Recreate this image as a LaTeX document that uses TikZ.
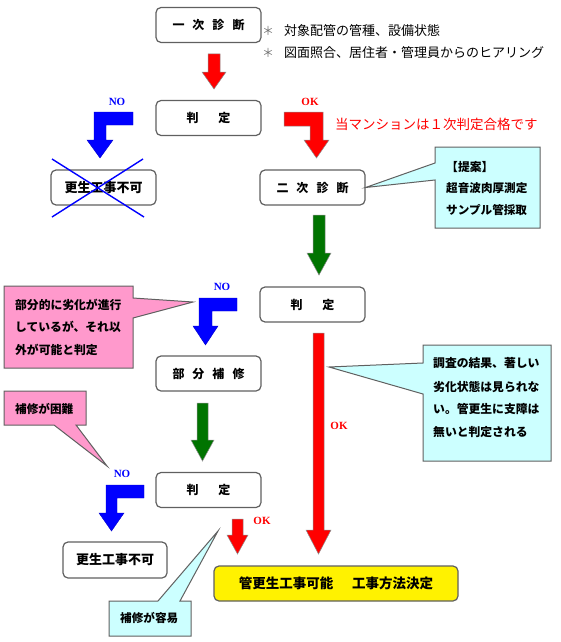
\documentclass[tikz,border=0pt]{standalone}
\usepackage{fontspec}
\newfontfamily\jp{Noto Sans CJK JP}
\newfontfamily\lat{Liberation Serif}
\definecolor{cyanbg}{HTML}{CCFFFF}
\definecolor{pinkbg}{HTML}{FF99CC}
\definecolor{darkgreen}{HTML}{007400}
\definecolor{boxline}{HTML}{606060}
\begin{document}
\begin{tikzpicture}[x=1pt,y=-1pt,
  flowbox/.style={draw=boxline, line width=1.2pt, rounded corners=5pt, fill=white, inner sep=0pt,
    minimum width=105pt, minimum height=35pt, font=\jp\bfseries\fontsize{12}{14}\selectfont},
  fatred/.style={fill=red, draw=black!45, line width=0.5pt},
  fatgreen/.style={fill=darkgreen, draw=black!45, line width=0.5pt},
  fatblue/.style={fill=blue, draw=blue!80!black, line width=0.4pt},
  callcyan/.style={fill=cyanbg, draw=boxline, line width=1pt},
  callpink/.style={fill=pinkbg, draw=boxline, line width=1pt},
  calltext/.style={anchor=west, inner sep=0pt, font=\jp\bfseries\fontsize{11.8}{14}\selectfont},
  nolabel/.style={inner sep=0pt, text=blue, font=\lat\bfseries\fontsize{11}{12}\selectfont},
  oklabel/.style={inner sep=0pt, text=red, font=\lat\bfseries\fontsize{11}{12}\selectfont},
  notetext/.style={anchor=west, inner sep=0pt, font=\jp\fontsize{13}{15}\selectfont}]
\useasboundingbox (0,0) rectangle (560,642);

% ---------- boxes ----------
\node[flowbox] (n1) at (208.5,25) {一\hspace{8pt}次\hspace{8pt}診\hspace{8pt}断};
\node[flowbox] (j1) at (208.5,118) {判\hspace{20pt}定};
\node[flowbox, font=\jp\bfseries\fontsize{13}{15}\selectfont] (ng1) at (103.5,187.5) {更生工事不可};
\node[flowbox] (n2) at (312.5,187.5) {二\hspace{8pt}次\hspace{8pt}診\hspace{8pt}断};
\node[flowbox] (j2) at (312.5,304.5) {判\hspace{20pt}定};
\node[flowbox] (ps) at (208.5,373.5) {部\hspace{8pt}分\hspace{8pt}補\hspace{8pt}修};
\node[flowbox] (j3) at (208.5,490) {判\hspace{20pt}定};
\node[flowbox, minimum width=104pt, minimum height=36pt, font=\jp\bfseries\fontsize{13}{15}\selectfont] (ng2) at (115,560) {更生工事不可};
\node[flowbox, fill=yellow, minimum width=244pt, font=\jp\bfseries\fontsize{13.5}{15}\selectfont] (fin) at (336,583.5) {管更生工事可能\hspace{19pt}工事方法決定};

% ---------- cross over first 更生工事不可 ----------
\coordinate (x1) at (52,159); \coordinate (x2) at (144,217);
\coordinate (x3) at (143,159); \coordinate (x4) at (52,217);
\draw[blue, line width=1.4pt] (x1) -- (x2);
\draw[blue, line width=1.4pt] (x3) -- (x4);

% ---------- notes ----------
\node[inner sep=0pt, text=black!55, font=\jp\fontsize{12}{14}\selectfont] (ast1) at (268,31) {＊};
\node[inner sep=0pt, text=black!55, font=\jp\fontsize{12}{14}\selectfont] (ast2) at (268,53) {＊};
\node[notetext] (note1) at (284,31) {対象配管の管種、設備状態};
\node[notetext] (note2) at (284,53) {図面照合、居住者・管理員からのヒアリング};
\node[notetext, text=red, font=\jp\fontsize{13.5}{15}\selectfont] (pass) at (335,124) {当マンションは１次判定合格です};

% ---------- straight block arrows ----------
% red 1
\draw[fatred] (208,54) -- (220,54) -- (220,72) -- (226,72) -- (214,89) -- (202,72) -- (208,72) -- cycle;
% green 1
\draw[fatgreen] (313,215) -- (325,215) -- (325,253) -- (331,253) -- (319,275) -- (307,253) -- (313,253) -- cycle;
% red long
\draw[fatred] (313,333) -- (324,333) -- (324,530) -- (331,530) -- (318.5,554) -- (306,530) -- (313,530) -- cycle;
% green 2
\draw[fatgreen] (197,403) -- (208,403) -- (208,440) -- (214,440) -- (202.5,461) -- (191,440) -- (197,440) -- cycle;
% red small
\draw[fatred] (232,519) -- (243,519) -- (243,535) -- (248,535) -- (237.5,554) -- (227,535) -- (232,535) -- cycle;

% ---------- L-shaped block arrows ----------
% blue NO 1
\draw[fatblue] (133,112) -- (133,125) -- (106,125) -- (106,140) -- (113,140) -- (100,158) -- (87,140) -- (94,140) -- (94,112) -- cycle;
% red OK 1
\draw[fatred] (284,112) -- (323,112) -- (323,140) -- (329,140) -- (316.5,158) -- (304,140) -- (310,140) -- (310,126) -- (284,126) -- cycle;
% blue NO 2
\draw[fatblue] (237,298) -- (237,311) -- (212,311) -- (212,326) -- (218,326) -- (205.5,345) -- (193,326) -- (199,326) -- (199,298) -- cycle;
% blue NO 3
\draw[fatblue] (144,485) -- (144,498) -- (117,498) -- (117,513) -- (124,513) -- (111.5,531) -- (99,513) -- (106,513) -- (106,485) -- cycle;

% ---------- labels ----------
\node[nolabel] (no1) at (117,102) {NO};
\node[oklabel] (ok1) at (310,102) {OK};
\node[nolabel] (no2) at (222,287) {NO};
\node[oklabel] (ok2) at (339,426) {OK};
\node[nolabel] (no3) at (122,474) {NO};
\node[oklabel] (ok3) at (262,521) {OK};

% ---------- callouts ----------
\draw[callcyan] (435,147) -- (540,147) -- (540,228) -- (435,228) -- (435,180) -- (n2.east) -- (435,163) -- cycle;
\node[calltext] (c1a) at (446,167) {【提案】};
\node[calltext, font=\jp\bfseries\fontsize{11.6}{14}\selectfont] (c1b) at (446,188) {超音波肉厚測定};
\node[calltext, font=\jp\bfseries\fontsize{11.6}{14}\selectfont] (c1c) at (446,210) {サンプル管採取};

\coordinate (p1tip) at (193,302);
\draw[callpink] (4,286) -- (133,286) -- (133,298) -- (p1tip) -- (133,318) -- (133,368) -- (4,368) -- cycle;
\node[calltext] (p1a) at (15,305) {部分的に劣化が進行};
\node[calltext] (p1b) at (15,327) {しているが、それ以};
\node[calltext] (p1c) at (15,350) {外が可能と判定};

\coordinate (p2tip) at (107,466);
\draw[callpink] (4,391) -- (86,391) -- (86,425) -- (76,425) -- (p2tip) -- (54,425) -- (4,425) -- cycle;
\node[calltext, font=\jp\bfseries\fontsize{11.6}{14}\selectfont] (p2a) at (15,409) {補修が困難};

\coordinate (c2tip) at (329,367);
\draw[callcyan] (423,345) -- (551,345) -- (551,461) -- (423,461) -- (423,394) -- (c2tip) -- (423,363) -- cycle;
\node[calltext] (c2a) at (433,363) {調査の結果、著しい};
\node[calltext] (c2b) at (433,387) {劣化状態は見られな};
\node[calltext] (c2c) at (433,409) {い。管更生に支障は};
\node[calltext] (c2d) at (433,432) {無いと判定される};

\coordinate (c3tip) at (218,531);
\draw[callcyan] (109,601) -- (158,601) -- (c3tip) -- (180,601) -- (191,601) -- (191,636) -- (109,636) -- cycle;
\node[calltext, font=\jp\bfseries\fontsize{11.6}{14}\selectfont] (c3a) at (120,618) {補修が容易};
\end{tikzpicture}
\end{document}
